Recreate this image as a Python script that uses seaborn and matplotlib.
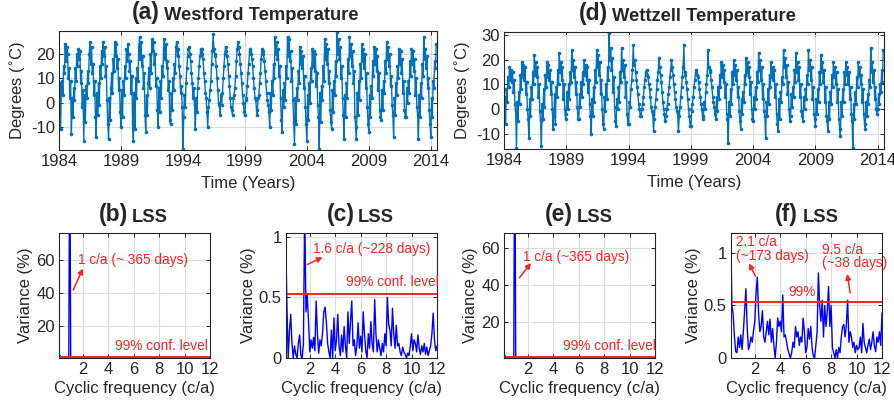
import numpy as np
import pandas as pd
import matplotlib
matplotlib.use("Agg")
import matplotlib.pyplot as plt
import seaborn as sns

# --- time series: 16 samples per year, Jan -> Dec (2014 is partial) ---
years = list(range(1984, 2015))
samples_per_year = 16

westford_temp = [
    [-4, 8, -11, 5, 9, 3, 15, 12, 24, 17, 23, 20, 10, 14, 2, 9],       # 1984
    [-13, 2, -6, 6, 1, 14, 9, 20, 15, 22, 18, 21, 8, 13, -2, 5],       # 1985
    [-16, 3, -8, 7, 2, 13, 8, 20, 25, 16, 23, 12, 16, 3, 9, -6],       # 1986
    [-14, 4, -5, 8, -1, 15, 10, 21, 16, 25, 19, 23, 11, 15, 1, -9],    # 1987
    [-15, 2, -7, 6, 12, 4, 18, 13, 25, 19, 24, 14, 18, 5, 10, -4],     # 1988
    [-10, 5, -6, 9, 3, 15, 10, 22, 17, 24, 20, 13, 17, 4, 11, -8],     # 1989
    [-16, 4, -11, 10, 2, 14, 9, 23, 27, 18, 25, 15, 19, 6, 12, -5],    # 1990
    [-12, 3, -5, 8, 14, 6, 20, 12, 26, 21, 25, 16, 20, 7, 10, -3],     # 1991
    [-10, 6, -4, 9, 2, 15, 11, 22, 26, 18, 24, 14, 17, 5, 9, -7],      # 1992
    [-9, 4, -3, 10, 5, 16, 12, 23, 25, 19, 22, 15, 11, 4, 7, -2],      # 1993
    [-19, -6, 3, -2, 8, 14, 19, 22, 23, 20, 17, 12, 8, 2, 6, -1],      # 1994
    [-11, 2, -4, 6, 10, 15, 19, 22, 20, 22, 18, 12, 9, 4, 2, -4],      # 1995
    [-10, -2, 1, 5, 9, 16, 21, 28, 22, 20, 19, 15, 10, 5, 0, -1],      # 1996
    [-5, 3, -1, 4, 10, 15, 20, 23, 21, 19, 16, 11, 7, 2, -2, -3],      # 1997
    [-5, 2, 3, 6, 11, 17, 22, 25, 23, 20, 16, 12, 8, 3, 0, -4],        # 1998
    [-5, 1, 2, 7, 12, 16, 21, 22, 20, 18, 15, 10, 6, 2, 1, -3],        # 1999
    [-5, 2, 3, 8, 12, 18, 22, 21, 20, 17, 13, 9, 4, 1, -1, -4],        # 2000
    [-10, 4, -3, 9, 3, 16, 10, 27, 20, 25, 18, 22, 11, 15, 2, -7],     # 2001
    [-12, 5, -2, 8, 1, 15, 10, 27, 19, 26, 17, 21, 9, 14, 1, -8],      # 2002
    [-17, 2, -9, 6, 1, 13, 8, 23, 16, 21, 14, 19, 6, 11, -2, -9],      # 2003
    [-16, 3, -7, 8, 0, 14, 9, 22, 15, 21, 13, 20, 7, 12, -1, -6],      # 2004
    [-19, 4, -8, 7, 1, 15, 9, 26, 18, 24, 16, 22, 8, 13, -3, -8],      # 2005
    [-11, 5, -4, 9, 3, 17, 11, 29, 20, 26, 18, 23, 10, 15, 2, -5],     # 2006
    [-15, 3, -6, 8, 2, 18, 12, 27, 19, 24, 15, 21, 8, 13, -6, -10],    # 2007
    [-15, 4, -5, 9, 1, 16, 10, 24, 17, 22, 14, 20, 6, 12, -2, -9],     # 2008
    [-12, 3, -6, 7, 2, 17, 11, 23, 16, 22, 13, 19, 5, 12, -3, -6],     # 2009
    [-7, 5, -3, 9, 4, 17, 12, 25, 18, 23, 15, 20, 7, 11, -1, -5],      # 2010
    [-14, 2, -5, 8, 3, 15, 10, 22, 16, 21, 12, 18, 4, 9, -3, -6],      # 2011
    [-6, 6, 0, 9, 4, 17, 11, 22, 16, 21, 13, 18, 3, 10, -2, -5],       # 2012
    [-15, 3, -6, 8, 2, 16, 11, 27, 18, 22, 14, 19, 6, 10, -3, -9],     # 2013
    [-14, 2, -6, 9, 6, 17, 14, 24],                                    # 2014
]

wettzell_temp = [
    [-4, 5, -6, 8, 3, 13, 9, 17, 12, 16, 11, 15, 7, 12, 2, -1],        # 1984
    [-16, 3, -5, 7, 2, 14, 8, 19, 13, 18, 12, 17, 6, 11, 0, -4],       # 1985
    [-12, 4, -3, 9, 4, 15, 10, 22, 14, 19, 13, 17, 5, 10, -1, -5],     # 1986
    [-15, 2, -4, 8, 1, 14, 9, 19, 13, 18, 12, 16, 6, 11, 0, -8],       # 1987
    [-3, 6, -6, 9, 5, 16, 10, 23, 15, 19, 12, 17, 4, 10, 0, -4],       # 1988
    [-2, 7, 0, 10, 4, 15, 11, 24, 16, 20, 13, 17, 6, 11, 1, -4],       # 1989
    [-4, 6, 1, 11, 5, 15, 10, 20, 14, 18, 12, 17, 7, 12, 2, -3],       # 1990
    [-10, 4, -3, 9, 3, 16, 11, 24, 17, 22, 14, 19, 6, 12, 0, -6],      # 1991
    [-8, 5, -1, 10, 4, 17, 12, 31, 20, 25, 16, 21, 7, 13, 1, -5],      # 1992
    [-7, 4, 0, 9, 3, 15, 11, 25, 16, 20, 13, 18, 5, 11, -2, -6],       # 1993
    [-6, 3, 1, 8, 12, 16, 26, 18, 20, 15, 12, 9, 6, 2, 0, -3],         # 1994
    [-3, 0, 2, 5, 9, 12, 15, 16, 14, 13, 10, 8, 5, 1, -1, -2],         # 1995
    [-9, -4, 1, 4, 8, 12, 15, 21, 17, 14, 11, 7, 3, 0, -2, -5],        # 1996
    [-3, 0, 2, 6, 9, 13, 16, 20, 17, 14, 10, 7, 4, 1, -1, -2],         # 1997
    [-9, -3, 1, 5, 9, 13, 17, 26, 15, 14, 11, 8, 4, 0, -3, -7],        # 1998
    [-7, -1, 2, 5, 9, 12, 15, 16, 14, 13, 11, 8, 5, 2, 0, -3],         # 1999
    [-4, 3, 0, 7, 10, 14, 24, 17, 16, 15, 12, 9, 5, 3, 1, -2],         # 2000
    [-4, 5, -1, 9, 4, 14, 9, 19, 13, 18, 11, 16, 5, 10, -2, -4],       # 2001
    [-14, 3, -3, 8, 2, 15, 10, 20, 14, 18, 12, 16, 5, 9, -1, -5],      # 2002
    [-8, 4, -2, 7, 3, 14, 10, 21, 15, 19, 13, 17, 6, 11, 0, -4],       # 2003
    [-5, 5, 0, 9, 4, 15, 11, 23, 16, 20, 12, 17, 4, 10, -1, -3],       # 2004
    [-12, 3, -3, 8, 2, 14, 9, 19, 13, 17, 12, 16, 5, 10, -2, -6],      # 2005
    [-9, 4, -4, 7, 3, 13, 10, 24, 17, 21, 13, 18, 6, 11, 0, -5],       # 2006
    [-3, 6, 1, 9, 5, 16, 11, 23, 15, 19, 12, 17, 5, 10, -1, -3],       # 2007
    [-5, 5, 0, 8, 4, 14, 10, 24, 16, 20, 12, 17, 4, 9, -2, -4],        # 2008
    [-7, 4, -2, 8, 3, 15, 10, 22, 15, 19, 11, 16, 3, 9, -3, -5],       # 2009
    [-9, 3, -4, 7, 2, 14, 9, 19, 13, 17, 10, 15, 3, 8, -4, -8],        # 2010
    [-11, 3, -3, 8, 3, 15, 10, 19, 14, 17, 10, 15, 4, 9, -2, -5],      # 2011
    [-16, 2, -4, 7, 2, 13, 9, 19, 14, 17, 10, 14, 3, 8, -2, -6],       # 2012
    [-8, 3, -3, 6, 2, 12, 9, 25, 15, 19, 11, 16, 4, 9, 0, -2],         # 2013
    [0, 6, 2, 10, 7, 16, 11, 24],                                      # 2014
]

# --- LSS spectra ---
# full spectra (b, e): annual peak dominates
annual_freq = [0.1, 0.2, 0.3, 0.5, 0.7, 0.9, 0.95, 1.0, 1.05, 1.2, 2.0, 4.0, 6.0, 8.0, 10.0, 12.0]
westford_full = [1.8, 2.2, 0.9, 0.7, 0.6, 0.7, 97, 97, 0.7, 0.6, 0.6, 0.6, 0.6, 0.6, 0.6, 0.6]
wettzell_full = [1.6, 1.9, 0.8, 0.6, 0.5, 0.6, 97, 97, 0.6, 0.5, 0.5, 0.5, 0.5, 0.5, 0.5, 0.5]

# residual spectra (c, f), 0.1 .. 12.0 c/a
resid_freq = [round(0.1 * k, 1) for k in range(1, 121)]
westford_resid = [
    1.02, 0.45, 0.00, 0.22, 0.36, 0.12, 0.00, 0.10, 0.03, 0.00,
    0.12, 0.19, 0.02, 0.00, 0.12, 1.25, 0.38, 0.52, 0.30, 0.05,
    0.15, 0.08, 0.17, 0.06, 0.47, 0.20, 0.04, 0.15, 0.10, 0.20,
    0.38, 0.42, 0.30, 0.12, 0.05, 0.00, 0.23, 0.00, 0.33, 0.06,
    0.15, 0.36, 0.10, 0.02, 0.19, 0.05, 0.26, 0.10, 0.00, 0.38,
    0.12, 0.30, 0.47, 0.10, 0.15, 0.02, 0.10, 0.29, 0.08, 0.18,
    0.05, 0.38, 0.20, 0.06, 0.00, 0.20, 0.08, 0.30, 0.12, 0.05,
    0.48, 0.20, 0.05, 0.15, 0.08, 0.02, 0.12, 0.05, 0.20, 0.10,
    0.50, 0.28, 0.23, 0.10, 0.41, 0.20, 0.08, 0.27, 0.10, 0.12,
    0.05, 0.02, 0.09, 0.05, 0.03, 0.00, 0.04, 0.02, 0.10, 0.20,
    0.06, 0.15, 0.12, 0.05, 0.19, 0.08, 0.03, 0.10, 0.05, 0.12,
    0.03, 0.09, 0.02, 0.06, 0.10, 0.20, 0.37, 0.15, 0.06, 0.10,
]
wettzell_resid = [
    1.25, 0.50, 0.42, 0.20, 0.06, 0.05, 0.20, 0.10, 0.22, 0.08,
    0.25, 0.45, 0.66, 0.30, 0.08, 0.12, 0.20, 0.15, 0.26, 0.35,
    0.62, 0.77, 0.42, 0.25, 0.30, 0.45, 0.20, 0.15, 0.25, 0.35,
    0.22, 0.37, 0.15, 0.28, 0.12, 0.00, 0.15, 0.38, 0.30, 0.35,
    0.25, 0.60, 0.20, 0.22, 0.15, 0.08, 0.04, 0.00, 0.05, 0.15,
    0.10, 0.30, 0.20, 0.25, 0.12, 0.20, 0.15, 0.38, 0.25, 0.05,
    0.10, 0.28, 0.18, 0.30, 0.10, 0.02, 0.00, 0.12, 0.25, 0.81,
    0.50, 0.35, 0.55, 0.20, 0.50, 0.30, 0.45, 0.68, 0.30, 0.50,
    0.10, 0.05, 0.00, 0.08, 0.00, 0.10, 0.05, 0.20, 0.30, 0.32,
    0.20, 0.32, 0.55, 0.15, 0.25, 0.20, 0.10, 0.15, 0.05, 0.12,
    0.08, 0.10, 0.20, 0.05, 0.33, 0.15, 0.10, 0.05, 0.12, 0.18,
    0.08, 0.15, 0.25, 0.12, 0.06, 0.20, 0.15, 0.25, 0.12, 0.43,
]

conf_full = [1.3, 1.2]      # 99% level for (b), (e)
conf_resid = [0.53, 0.537]  # 99% level for (c), (f)


def to_frame(rows):
    t, v = [], []
    for yr, row in zip(years, rows):
        for k, val in enumerate(row):
            t.append(yr + k / samples_per_year)
            v.append(val)
    return pd.DataFrame({"time": t, "temp": v})


sns.set_theme(style="ticks")
plt.rcParams["font.family"] = ["Liberation Sans", "DejaVu Sans"]
plt.rcParams["axes.linewidth"] = 0.8
plt.rcParams["axes.unicode_minus"] = False

fig = plt.figure(figsize=(8.95, 4.08), dpi=100)
W, H = 895, 408
FS = 12


def add_ax(left, top, right, bottom):
    return fig.add_axes([left / W, 1 - bottom / H, (right - left) / W, (bottom - top) / H])


def style(ax):
    ax.grid(True, color="#dcdcdc", lw=0.8)
    ax.set_axisbelow(True)
    ax.tick_params(direction="in", top=True, right=True, length=3, width=0.7,
                   labelsize=FS, colors="#262626", pad=3)
    for s in ax.spines.values():
        s.set_color("#262626")
        s.set_visible(True)


def title(ax, tag, text, split):
    ax.text(split[0], 1.06, tag, transform=ax.transAxes, ha="right", va="bottom",
            fontsize=16.5, fontweight="bold")
    ax.text(split[1], 1.06, text, transform=ax.transAxes, ha="left", va="bottom",
            fontsize=13.2, fontweight="bold")


line_blue = "#0072BD"

# top row: temperatures
ts_specs = [
    ((59, 31, 437, 150), westford_temp, "(a)", "Westford Temperature", (-19.5, 29.4),
     [-10, 0, 10, 20], (0.267, 0.278)),
    ((504, 32, 884, 149), wettzell_temp, "(d)", "Wettzell Temperature", (-16.3, 31.4),
     [-10, 0, 10, 20, 30], (0.274, 0.284)),
]
for box, rows, tag, name, ylim, yticks, split in ts_specs:
    ax = add_ax(*box)
    df = to_frame(rows)
    sns.lineplot(data=df, x="time", y="temp", ax=ax, color=line_blue, lw=1.0,
                 marker="o", markersize=2.6, markeredgewidth=0, sort=False)
    ax.set_xlim(1984, 2014.5)
    ax.set_ylim(*ylim)
    ax.set_xticks([1984, 1989, 1994, 1999, 2004, 2009, 2014])
    ax.set_yticks(yticks)
    ax.set_xlabel("Time (Years)", fontsize=FS, labelpad=5)
    ax.set_ylabel("Degrees ($^{\\circ}$C)", fontsize=FS, labelpad=2)
    style(ax)
    title(ax, tag, name, split)

# bottom row: spectra
spec_specs = [
    ((59, 233, 210, 358), annual_freq, westford_full, conf_full[0], "(b)", (0.5, 76.7),
     [20, 40, 60], ["20", "40", "60"], (0.457, 0.483)),
    ((286, 233, 437, 358), resid_freq, westford_resid, conf_resid[0], "(c)", (0, 1.03),
     [0, 0.5, 1], ["0", "0.5", "1"], (0.457, 0.477)),
    ((504, 233, 655, 358), annual_freq, wettzell_full, conf_full[1], "(e)", (0.4, 68.3),
     [20, 40, 60], ["20", "40", "60"], (0.457, 0.483)),
    ((731, 233, 882, 358), resid_freq, wettzell_resid, conf_resid[1], "(f)", (0, 1.19),
     [0, 0.5, 1], ["0", "0.5", "1"], (0.445, 0.472)),
]
spec_axes = []
for box, fr, var, conf, tag, ylim, yticks, ylabels, split in spec_specs:
    ax = add_ax(*box)
    sns.lineplot(x=fr, y=var, ax=ax, color="#0000FF", lw=1.0, sort=False)
    ax.axhline(conf, color="#FF2020", lw=1.4)
    ax.set_xlim(0.13, 12)
    ax.set_ylim(*ylim)
    ax.set_xticks([2, 4, 6, 8, 10, 12])
    ax.set_yticks(yticks)
    ax.set_yticklabels(ylabels)
    ax.set_xlabel("Cyclic frequency (c/a)", fontsize=FS, labelpad=3)
    ax.set_ylabel("Variance (%)", fontsize=FS, labelpad=2)
    style(ax)
    title(ax, tag, "LSS", split)
    spec_axes.append(ax)

red = "#FF2020"
arrow = dict(arrowstyle="-|>", color=red, lw=1.1, mutation_scale=8, shrinkA=0, shrinkB=0)
ax_b, ax_c, ax_e, ax_f = spec_axes
AFS = 9.8

ax_b.text(1.66, 60, "1 c/a (~ 365 days)", color=red, fontsize=AFS, va="center")
ax_b.annotate("", xy=(2.0, 55), xytext=(1.25, 42), arrowprops=arrow)
ax_b.text(4.5, 8, "99% conf. level", color=red, fontsize=AFS, va="center")

ax_c.text(2.25, 0.895, "1.6 c/a (~228 days)", color=red, fontsize=AFS, va="center")
ax_c.annotate("", xy=(3.0, 0.83), xytext=(1.8, 0.77), arrowprops=arrow)
ax_c.text(4.85, 0.63, "99% conf. level", color=red, fontsize=AFS, va="center")

ax_e.text(1.66, 55.5, "1 c/a (~365 days)", color=red, fontsize=AFS, va="center")
ax_e.annotate("", xy=(2.25, 52), xytext=(1.35, 44), arrowprops=arrow)
ax_e.text(4.8, 6.9, "99% conf. level", color=red, fontsize=AFS, va="center")

ax_f.text(0.55, 1.105, "2.1 c/a", color=red, fontsize=AFS, va="center")
ax_f.text(0.55, 0.975, "(~173 days)", color=red, fontsize=AFS, va="center")
ax_f.annotate("", xy=(1.55, 0.9), xytext=(2.05, 0.78), arrowprops=arrow)
ax_f.text(7.3, 1.03, "9.5 c/a", color=red, fontsize=AFS, va="center")
ax_f.text(7.3, 0.9, "(~38 days)", color=red, fontsize=AFS, va="center")
ax_f.annotate("", xy=(9.27, 0.8), xytext=(9.5, 0.62), arrowprops=arrow)
ax_f.text(4.65, 0.63, "99%", color=red, fontsize=AFS, va="center")

fig.savefig("out.png", dpi=100)
